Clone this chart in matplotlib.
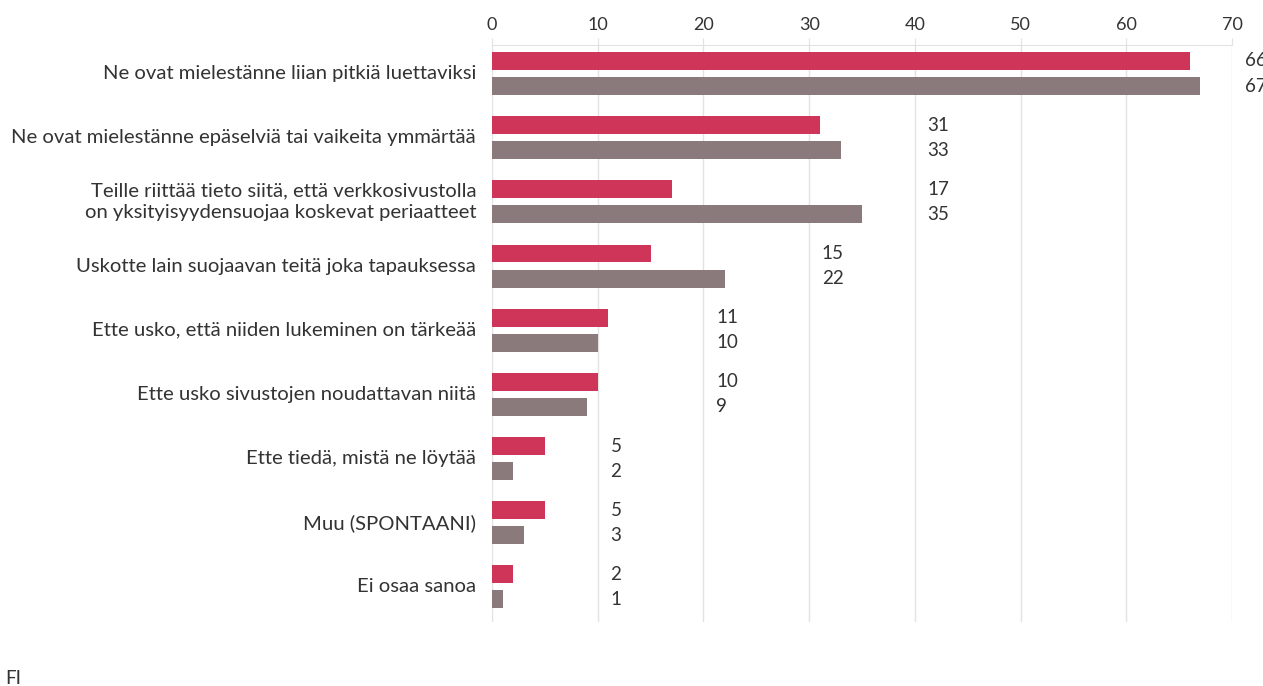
import numpy as np
import matplotlib
matplotlib.use("Agg")
import matplotlib.pyplot as plt

categories = [
    "Ne ovat mielestänne liian pitkiä luettaviksi",
    "Ne ovat mielestänne epäselviä tai vaikeita ymmärtää",
    "Teille riittää tieto siitä, että verkkosivustolla\non yksityisyydensuojaa koskevat periaatteet",
    "Uskotte lain suojaavan teitä joka tapauksessa",
    "Ette usko, että niiden lukeminen on tärkeää",
    "Ette usko sivustojen noudattavan niitä",
    "Ette tiedä, mistä ne löytää",
    "Muu (SPONTAANI)",
    "Ei osaa sanoa",
]
series_red = [66, 31, 17, 15, 11, 10, 5, 5, 2]
series_grey = [67, 33, 35, 22, 10, 9, 2, 3, 1]
xticks = [0, 10, 20, 30, 40, 50, 60, 70]

RED = "#cf3459"
GREY = "#8a7a7c"
GRID = "#e2e2e2"
TXT = "#333333"

plt.rcParams['font.family'] = ['Lato', 'DejaVu Sans']

W, H = 1263, 686
fig = plt.figure(figsize=(W / 100, H / 100), dpi=100)
left, right, top, bottom = 492, 1232, 45, 622
ax = fig.add_axes([left / W, 1 - bottom / H, (right - left) / W, (bottom - top) / H])

y = np.arange(len(categories))
bh = 0.28
off = 0.195
ax.barh(y - off, series_red, height=bh, color=RED, zorder=3)
ax.barh(y + off, series_grey, height=bh, color=GREY, zorder=3)

ax.set_xlim(0, 70)
ax.set_ylim(8.547, -0.444)
ax.set_xticks(xticks)
ax.xaxis.tick_top()
ax.tick_params(axis='x', length=5, color=GRID, labelsize=13, labelcolor=TXT, pad=4)
ax.set_yticks([])
ax.grid(axis='x', color=GRID, linewidth=1, zorder=0)
for s in ['left', 'right', 'bottom']:
    ax.spines[s].set_visible(False)
ax.spines['top'].set_color(GRID)

for i, (r, g) in enumerate(zip(series_red, series_grey)):
    lx = (np.floor(max(r, g) / 10) + 1) * 10 + 1.2
    ax.text(lx, i - off, str(r), va='center', ha='left', fontsize=13.5, color=TXT, clip_on=False)
    ax.text(lx, i + off, str(g), va='center', ha='left', fontsize=13.5, color=TXT, clip_on=False)
    ax.text(-1.5, i, categories[i], va='center', ha='right', fontsize=14.6, color=TXT,
            linespacing=1.35, clip_on=False)

fig.text(5 / W, 1 - 678 / H, "FI", fontsize=13.5, color=TXT, va='center', ha='left')

fig.savefig("out.png", dpi=100)
